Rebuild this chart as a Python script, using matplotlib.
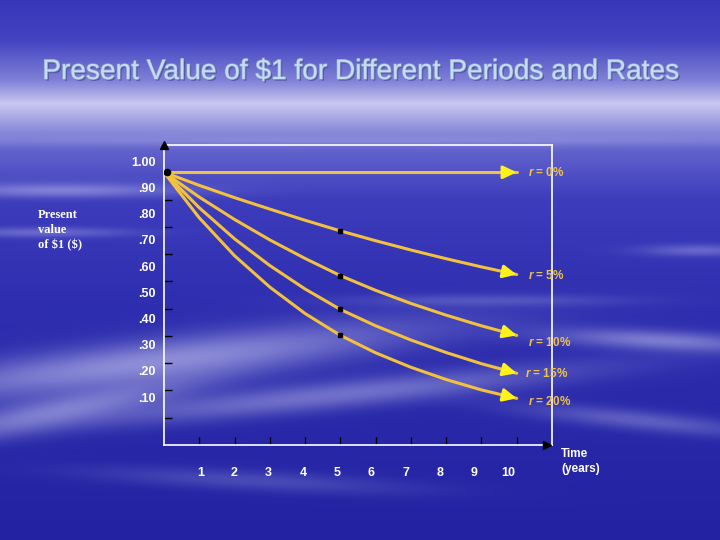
import numpy as np
import matplotlib.pyplot as plt
from matplotlib import patheffects as pe

plt.rcParams['font.family'] = ['Liberation Sans', 'DejaVu Sans']
plt.rcParams['mathtext.fontset'] = 'custom'
plt.rcParams['mathtext.it'] = 'Liberation Sans:italic:bold'
plt.rcParams['mathtext.rm'] = 'Liberation Sans:bold'

# data
years = [0, 1, 2, 3, 4, 5, 6, 7, 8, 9, 10]
rate_labels = ["0%", "5%", "10%", "15%", "20%"]
pv_0 = [1.000, 1.000, 1.000, 1.000, 1.000, 1.000, 1.000, 1.000, 1.000, 1.000, 1.000]
pv_5 = [1.000, 0.952, 0.907, 0.865, 0.824, 0.785, 0.749, 0.715, 0.683, 0.653, 0.625]
pv_10 = [1.000, 0.909, 0.827, 0.752, 0.684, 0.621, 0.567, 0.519, 0.476, 0.437, 0.402]
pv_15 = [1.000, 0.870, 0.756, 0.658, 0.572, 0.497, 0.437, 0.385, 0.339, 0.298, 0.263]
pv_20 = [1.000, 0.833, 0.694, 0.579, 0.482, 0.402, 0.338, 0.285, 0.240, 0.202, 0.171]
series = [pv_0, pv_5, pv_10, pv_15, pv_20]

y_tick_values = [1.0, 0.9, 0.8, 0.7, 0.6, 0.5, 0.4, 0.3, 0.2, 0.1]
y_tick_labels = ["1.00", ".90", ".80", ".70", ".60", ".50", ".40", ".30", ".20", ".10"]
x_tick_values = [1, 2, 3, 4, 5, 6, 7, 8, 9, 10]
x_tick_labels = ["1", "2", "3", "4", "5", "6", "7", "8", "9", "10"]
title = "Present Value of $1 for Different Periods and Rates"

fig = plt.figure(figsize=(7.2, 5.4), dpi=100)

# sky / cloud background
H, W = 540, 720
rows = np.arange(H)
stop_y = [0, 40, 80, 103, 125, 150, 200, 300, 540]
stop_c = [(54, 54, 184), (68, 68, 194), (128, 128, 216), (200, 200, 240),
          (150, 150, 222), (98, 98, 204), (60, 60, 188), (46, 46, 176), (34, 34, 162)]
base = np.stack([np.interp(rows, stop_y, [c[i] for c in stop_c]) for i in range(3)], -1)
img = np.repeat(base[:, None, :], W, 1) / 255.0
xx = np.arange(W)[None, :]
yy = rows[:, None]
white = np.array([0.86, 0.86, 0.98])
# (cx, cy, sx, sy, slope, strength)
clouds = [(60, 190, 120, 7, 0.0, 0.4), (40, 232, 90, 5, 0.0, 0.3),
          (150, 362, 260, 22, -0.12, 0.55), (330, 395, 250, 14, -0.1, 0.4),
          (60, 410, 140, 16, -0.2, 0.45), (660, 340, 110, 10, 0.05, 0.45),
          (640, 420, 120, 10, 0.1, 0.3), (480, 300, 140, 6, 0.0, 0.2),
          (360, 140, 380, 5, 0.0, 0.18), (250, 480, 160, 10, 0.05, 0.2),
          (700, 250, 60, 6, 0.0, 0.3)]
for cx, cy, sx, sy, slope, a in clouds:
    d = yy - cy - slope * (xx - cx)
    g = a * np.exp(-((xx - cx) / sx) ** 2 - (d / sy) ** 2)
    img = img + g[..., None] * (white - img)
bg = fig.add_axes([0, 0, 1, 1], zorder=0)
bg.imshow(np.clip(img, 0, 1), aspect='auto', extent=(0, 1, 0, 1), interpolation='bilinear')
bg.axis('off')

# title
fig.text(0.5, 1 - 72 / 540, title, ha='center', va='center', fontsize=20.2,
         color='#C4DCF6',
         path_effects=[pe.withSimplePatchShadow(offset=(1.2, -1.2), shadow_rgbFace='#4A5390', alpha=0.8),
                       pe.Stroke(linewidth=1.0, foreground='#8A9CC8'), pe.Normal()])

# chart
ax = fig.add_axes([164 / 720, 1 - 445 / 540, 388 / 720, 300 / 540], zorder=1)
ax.patch.set_visible(False)
ax.set_xlim(0, 11)
ax.set_ylim(0, 1.1)

line_col = '#F2C13E'
head_col = '#FFF21A'
for vals in series:
    ax.plot(years, vals, color=line_col, lw=2.2, solid_capstyle='round',
            solid_joinstyle='round', zorder=3)
    ax.annotate('', xy=(years[-1], vals[-1]), xytext=(years[-2], vals[-2]),
                arrowprops=dict(arrowstyle='-|>,head_length=0.8,head_width=0.38',
                                color=head_col, lw=2.2, shrinkA=16, shrinkB=0), zorder=4)
# black dots at t=0 and t=5
ax.plot([years[0] + 0.08], [pv_0[0]], 'o', color='black', ms=4.5, zorder=5)
for vals in series[1:]:
    ax.plot([years[5]], [vals[5]], 's', color='black', ms=3.5, zorder=5)

label_offsets = [(8, 0), (8, -1), (8, -5), (6, 0), (8, -2)]
for vals, lab, off in zip(series, rate_labels, label_offsets):
    ax.annotate(r'$\mathit{r}$ = ' + lab, xy=(years[-1], vals[-1]),
                xytext=off, textcoords='offset points', ha='left', va='center',
                fontsize=8.5, color='#EDC24A', fontweight='bold')

# frame and axes arrows
for s in ax.spines.values():
    s.set_color('white')
    s.set_linewidth(1.2)
ax.plot([0], [1.1], '^', color='black', ms=6, clip_on=False, zorder=6)
ax.plot([10.85], [0], '>', color='black', ms=6, clip_on=False, zorder=6)

# tick marks at the true positions, labels where the slide put them
ax.xaxis.remove_overlapping_locs = False
ax.yaxis.remove_overlapping_locs = False
ax.set_yticks(y_tick_values, minor=True)
ax.set_xticks(x_tick_values, minor=True)
ax.set_yticks([v * 0.96 + 0.08 for v in y_tick_values], y_tick_labels)
ax.set_xticks([v * 0.97 + 0.06 for v in x_tick_values], x_tick_labels)
ax.tick_params(which='minor', direction='in', length=6, width=1.0, color='black',
               top=False, right=False)
ax.tick_params(which='major', length=0, colors='white', labelsize=9)
ax.tick_params(axis='y', which='major', pad=6)
ax.tick_params(axis='x', which='major', pad=16)
for t in ax.get_xticklabels() + ax.get_yticklabels():
    t.set_fontweight('bold')

fig.text(38 / 720, 1 - 209 / 540, "Present\nvalue\nof \\$1 (\\$)", ha='left', va='top',
         fontsize=9, color='white', family='Liberation Serif', fontweight='bold',
         linespacing=1.35)
fig.text(561 / 720, 1 - 448 / 540, "Time\n(years)", ha='left', va='top',
         fontsize=8.5, color='white', fontweight='bold', linespacing=1.3)

fig.savefig('out.png', dpi=100)
